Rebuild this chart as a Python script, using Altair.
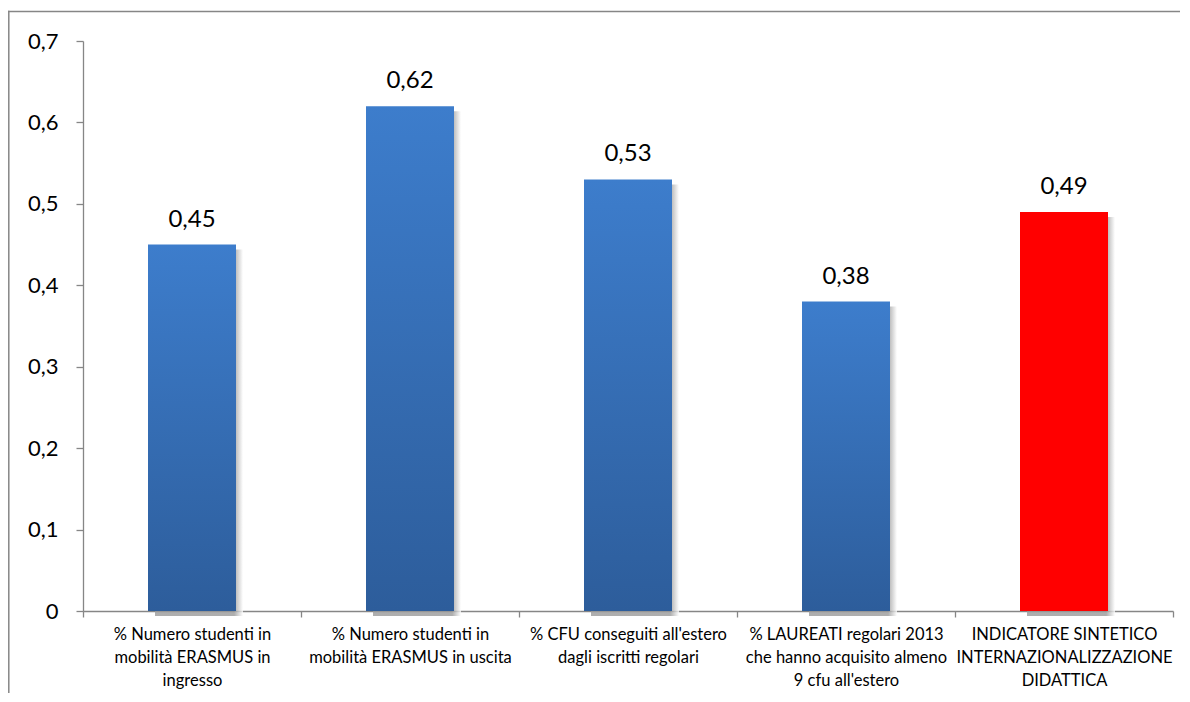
import altair as alt
import pandas as pd

categories = [
    "% Numero studenti in|mobilità ERASMUS in|ingresso",
    "% Numero studenti in|mobilità ERASMUS in uscita",
    "% CFU conseguiti all'estero|dagli iscritti regolari",
    "% LAUREATI regolari 2013|che hanno acquisito almeno|9 cfu all'estero",
    "INDICATORE SINTETICO|INTERNAZIONALIZZAZIONE|DIDATTICA",
]
values = [0.45, 0.62, 0.53, 0.38, 0.49]
highlight = [False, False, False, False, True]
y_ticks = [0, 0.1, 0.2, 0.3, 0.4, 0.5, 0.6, 0.7]

df = pd.DataFrame({"cat": categories, "value": values, "hl": highlight})

FONT = "Lato"
AXIS_COLOR = "#868686"

x_enc = alt.X(
    "cat:N",
    sort=categories,
    title=None,
    scale=alt.Scale(paddingInner=0, paddingOuter=0),
    axis=alt.Axis(
        labelAngle=0,
        labelExpr="split(datum.label, '|')",
        labelFont=FONT,
        labelFontSize=16.5,
        labelLineHeight=23,
        labelColor="#000000",
        labelBaseline="top",
        labelPadding=9,
        labelLimit=300,
        tickBand="extent",
        tickSize=6,
        tickColor=AXIS_COLOR,
        domainColor=AXIS_COLOR,
        domainWidth=1.3,
        tickWidth=1.3,
    ),
)
y_enc = alt.Y(
    "value:Q",
    title=None,
    scale=alt.Scale(domain=[0, 0.7], nice=False, zero=True),
    axis=alt.Axis(
        values=y_ticks,
        grid=False,
        labelExpr="datum.value == 0 ? '0' : replace(format(datum.value, '.1f'), '.', ',')",
        labelFont=FONT,
        labelFontSize=22,
        labelColor="#000000",
        labelPadding=18,
        tickSize=7,
        tickColor=AXIS_COLOR,
        domainColor=AXIS_COLOR,
        domainWidth=1.3,
        tickWidth=1.3,
    ),
)

base = alt.Chart(df)

blue_grad = alt.Gradient(
    gradient="linear",
    stops=[
        alt.GradientStop(color="#3D7DCC", offset=0),
        alt.GradientStop(color="#2D5D9B", offset=1),
    ],
    x1=0, x2=0, y1=0, y2=1,
)
shadow_grad = alt.Gradient(
    gradient="linear",
    stops=[
        alt.GradientStop(color="#9a9a9a", offset=0.9),
        alt.GradientStop(color="#ffffff", offset=1),
    ],
    x1=0, x2=1, y1=0, y2=0,
)

shadow = base.mark_bar(size=88, xOffset=7, yOffset=5, color=shadow_grad, opacity=0.8).encode(
    x=x_enc, y=y_enc
)
blue = base.transform_filter("!datum.hl").mark_bar(size=88, color=blue_grad).encode(
    x=x_enc, y=y_enc
)
red = base.transform_filter("datum.hl").mark_bar(size=88, color="#FF0000").encode(
    x=x_enc, y=y_enc
)
labels = base.transform_calculate(
    txt="replace(format(datum.value, '.2f'), '.', ',')"
).mark_text(
    font=FONT, fontSize=24, color="#000000", baseline="bottom", dy=-13
).encode(x=x_enc, y=y_enc, text="txt:N")

frame_data = alt.Data(values=[{}])
frame_top = alt.Chart(frame_data).mark_rule(color=AXIS_COLOR, strokeWidth=1.5).encode(
    x=alt.value(-75), x2=alt.value(1300), y=alt.value(-29.5)
)
frame_left = alt.Chart(frame_data).mark_rule(color=AXIS_COLOR, strokeWidth=1.5).encode(
    x=alt.value(-74.2), y=alt.value(-30.2), y2=alt.value(800)
)

chart = alt.layer(frame_top, frame_left, shadow, blue, red, labels).properties(
    width=1090,
    height=570,
    autosize=alt.AutoSizeParams(type="none"),
    padding={"left": 75, "top": 33, "right": 7, "bottom": 82},
    background="#ffffff",
).configure_view(stroke=None)

chart.save("out.html", embed_options={"renderer": "svg", "actions": False})
